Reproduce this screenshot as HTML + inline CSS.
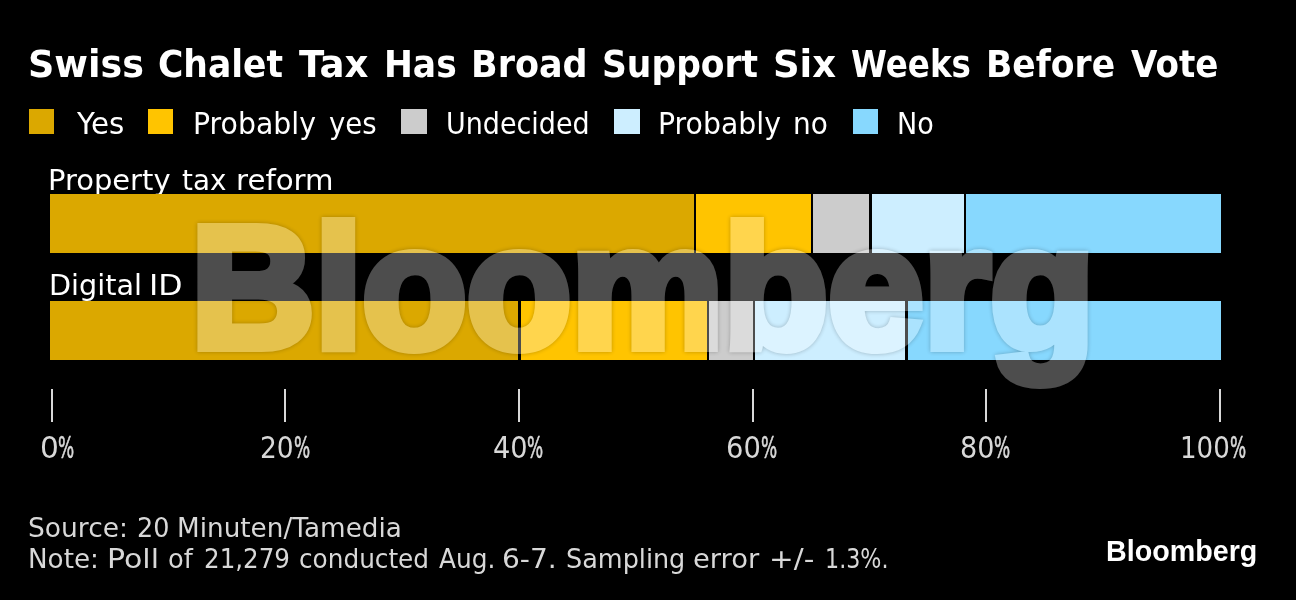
<!DOCTYPE html>
<html lang="en">
<head>
<meta charset="utf-8">
<title>Swiss Chalet Tax Has Broad Support Six Weeks Before Vote</title>
<style>
html,body{margin:0;padding:0;background:#000;}
body{width:1296px;height:600px;position:relative;overflow:hidden;font-family:'DejaVu Sans','Liberation Sans',sans-serif;}
.ln{position:absolute;margin:0;white-space:nowrap;line-height:1;font-weight:normal;}
.w{display:inline-block;transform-origin:0 0;font-family:'DejaVu Sans Condensed','DejaVu Sans','Liberation Sans',sans-serif;}
.n{font-family:'DejaVu Sans','Liberation Sans',sans-serif;}
.title{font-weight:bold;color:#fff;}
.title .w{font-family:'DejaVu Sans','Liberation Sans',sans-serif;}
.legend,.rowlabel{color:#fff;}
.tick,.foot{color:#d8d8d8;}
.logo,.wm{font-family:'Liberation Sans',sans-serif;font-weight:bold;transform-origin:0 0;color:#fff;}
.wm{opacity:0.3;-webkit-text-stroke:10px #fff;filter:drop-shadow(0 0 2px rgba(0,0,0,0.8));}
.sw{position:absolute;top:108.9px;width:25.4px;height:25px;}
.seg{position:absolute;}
.tk{position:absolute;top:388.8px;width:2px;height:33.6px;background:#d8d8d8;}
</style>
</head>
<body>
<h1 class="ln title" style="left:27.87px;top:46.10px;font-size:37px"><span class="w" style="width:117.55px;transform:scaleX(0.9860);">Swiss</span> <span class="w" style="width:128.14px;transform:scaleX(0.9338);">Chalet</span> <span class="w" style="width:71.65px;transform:scaleX(1.0021);">Tax</span> <span class="w" style="width:74.56px;transform:scaleX(0.9324);">Has</span> <span class="w" style="width:117.78px;transform:scaleX(0.9458);">Broad</span> <span class="w" style="width:157.93px;transform:scaleX(0.9330);">Support</span> <span class="w" style="width:65.52px;transform:scaleX(0.9986);">Six</span> <span class="w" style="width:122.44px;transform:scaleX(0.8798);">Weeks</span> <span class="w" style="width:131.93px;transform:scaleX(0.9343);">Before</span> <span class="w" style="transform:scaleX(0.9226);">Vote</span></h1>
<div class="legendbox">
<i class="sw" style="left:28.9px;background:#dba800"></i><span class="ln legend" style="left:76.77px;top:109.70px;font-size:29.5px"><span class="w n" style="transform:scaleX(0.9940);">Yes</span></span>
<i class="sw" style="left:148.1px;background:#ffc400"></i><span class="ln legend" style="left:193.12px;top:109.70px;font-size:29.5px"><span class="w n" style="width:126.45px;transform:scaleX(0.9603);">Probably</span> <span class="w" style="transform:scaleX(1.0400);">yes</span></span>
<i class="sw" style="left:401.2px;background:#cccccc"></i><span class="ln legend" style="left:445.95px;top:109.70px;font-size:29.5px"><span class="w" style="transform:scaleX(1.0150);">Undecided</span></span>
<i class="sw" style="left:614.2px;background:#cdeeff"></i><span class="ln legend" style="left:658.37px;top:109.70px;font-size:29.5px"><span class="w n" style="width:125.28px;transform:scaleX(0.9603);">Probably</span> <span class="w" style="transform:scaleX(1.0525);">no</span></span>
<i class="sw" style="left:852.9px;background:#87d8fe"></i><span class="ln legend" style="left:897.41px;top:109.70px;font-size:29.5px"><span class="w" style="transform:scaleX(1.0180);">No</span></span>
</div>
<div class="labels"><div class="ln rowlabel" style="left:48.47px;top:166.50px;font-size:28.5px"><span class="w n" style="width:124.28px;transform:scaleX(1.0159);">Property</span> <span class="w n" style="width:45.28px;transform:scaleX(0.9736);">tax</span> <span class="w n" style="transform:scaleX(1.0264);">reform</span></div><div class="ln rowlabel" style="left:48.50px;top:271.50px;font-size:28.5px"><span class="w n" style="width:91.91px;transform:scaleX(1.0052);">Digital</span> <span class="w n" style="transform:scaleX(1.1043);">ID</span></div></div>
<div class="bars">
<i class="seg" style="left:50.00px;top:194px;width:643.90px;height:59px;background:#dba800"></i><i class="seg" style="left:696.10px;top:194px;width:114.80px;height:59px;background:#ffc400"></i><i class="seg" style="left:813.10px;top:194px;width:56.40px;height:59px;background:#cccccc"></i><i class="seg" style="left:871.70px;top:194px;width:92.30px;height:59px;background:#cdeeff"></i><i class="seg" style="left:966.20px;top:194px;width:254.80px;height:59px;background:#87d8fe"></i>
<i class="seg" style="left:50.00px;top:301px;width:468.30px;height:59px;background:#dba800"></i><i class="seg" style="left:520.50px;top:301px;width:186.25px;height:59px;background:#ffc400"></i><i class="seg" style="left:708.95px;top:301px;width:43.65px;height:59px;background:#cccccc"></i><i class="seg" style="left:754.80px;top:301px;width:150.55px;height:59px;background:#cdeeff"></i><i class="seg" style="left:907.55px;top:301px;width:313.45px;height:59px;background:#87d8fe"></i>
</div>
<div class="axis"><i class="tk" style="left:50.50px"></i><i class="tk" style="left:284.10px"></i><i class="tk" style="left:517.80px"></i><i class="tk" style="left:751.50px"></i><i class="tk" style="left:985.10px"></i><i class="tk" style="left:1218.80px"></i>
<span class="ln tick" style="left:39.70px;top:433.00px;font-size:30.3px"><span class="w n" style="width:18.80px;transform:scaleX(0.9785);">0</span><span class="w" style="transform:scaleX(0.6236);-webkit-text-stroke:0.6px #d8d8d8;">%</span></span> <span class="ln tick" style="left:259.76px;top:433.00px;font-size:30.3px"><span class="w" style="width:33.75px;transform:scaleX(0.9718);">20</span><span class="w" style="transform:scaleX(0.6236);-webkit-text-stroke:0.6px #d8d8d8;">%</span></span> <span class="ln tick" style="left:492.72px;top:433.00px;font-size:30.3px"><span class="w" style="width:34.69px;transform:scaleX(1.0004);">40</span><span class="w" style="transform:scaleX(0.6236);-webkit-text-stroke:0.6px #d8d8d8;">%</span></span> <span class="ln tick" style="left:726.09px;top:433.00px;font-size:30.3px"><span class="w" style="width:34.81px;transform:scaleX(1.0043);">60</span><span class="w" style="transform:scaleX(0.6236);-webkit-text-stroke:0.6px #d8d8d8;">%</span></span> <span class="ln tick" style="left:959.91px;top:433.00px;font-size:30.3px"><span class="w" style="width:34.49px;transform:scaleX(0.9945);">80</span><span class="w" style="transform:scaleX(0.6236);-webkit-text-stroke:0.6px #d8d8d8;">%</span></span> <span class="ln tick" style="left:1179.93px;top:433.00px;font-size:30.3px"><span class="w" style="width:50.08px;transform:scaleX(0.9579);">100</span><span class="w" style="transform:scaleX(0.6236);-webkit-text-stroke:0.6px #d8d8d8;">%</span></span>
</div>
<div class="footer"><div class="ln foot" style="left:28.46px;top:515.00px;font-size:26.5px"><span class="w n" style="width:99.99px;transform:scaleX(0.9998);">Source:</span> <span class="w n" style="width:31.79px;transform:scaleX(0.9622);">20</span> <span class="w n" style="transform:scaleX(0.9916);">Minuten/Tamedia</span></div>
<div class="ln foot" style="left:27.70px;top:546.00px;font-size:26.5px"><span class="w n" style="width:70.52px;transform:scaleX(0.9894);">Note:</span> <span class="w n" style="width:52.53px;transform:scaleX(1.1319);">Poll</span> <span class="w n" style="width:28.25px;transform:scaleX(0.9695);">of</span> <span class="w" style="width:85.96px;transform:scaleX(1.0304);">21,279</span> <span class="w" style="width:131.62px;transform:scaleX(1.0378);">conducted</span> <span class="w" style="width:55.18px;transform:scaleX(1.0400);">Aug.</span> <span class="w n" style="width:54.83px;transform:scaleX(1.0589);">6-7.</span> <span class="w n" style="width:118.83px;transform:scaleX(0.9618);">Sampling</span> <span class="w n" style="width:67.83px;transform:scaleX(1.0333);">error</span> <span class="w n" style="width:47.18px;transform:scaleX(1.1137);">+/-</span> <span class="w" style="transform:scaleX(0.9316);">1.3%.</span></div></div>
<div class="ln logo" style="left:1105.84px;top:536.40px;font-size:29.3px;transform:scaleX(0.9788)">Bloomberg</div>
<div class="ln wm" style="left:190.59px;top:201.00px;font-size:172px;transform:scaleX(0.9954)">Bloomberg</div>
</body>
</html>
